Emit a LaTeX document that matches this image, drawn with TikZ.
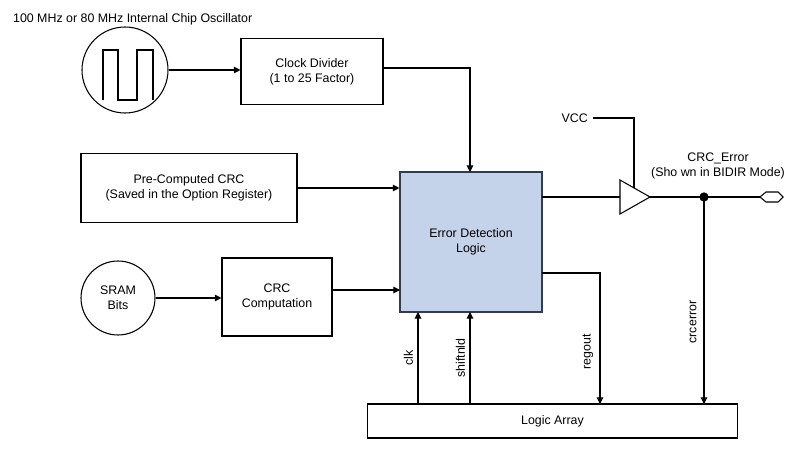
\documentclass[tikz,border=0pt]{standalone}
\usepackage{fontspec}
\setmainfont{Liberation Sans}
\usetikzlibrary{arrows.meta}
\begin{document}
\begin{tikzpicture}[x=0.75pt,y=-0.75pt,line width=1pt,
  box/.style={draw,thick,minimum width=#1,align=center,font=\fontsize{9.3}{11.5}\selectfont,inner sep=0pt},
  lbl/.style={font=\fontsize{9.3}{11.5}\selectfont,align=center},
  arr/.style={-{Triangle[length=5pt,width=5pt]},thick}]
\useasboundingbox (0,0) rectangle (800,449);
\node[lbl,anchor=west] (title) at (8,19) {100 MHz or 80 MHz Internal Chip Oscillator};
\node[draw,thick,circle,minimum size=64.5pt] (osc) at (125,70) {};
\draw[thick] (103,100) -- (103,50) -- (118,50) -- (118,100) -- (137,100) -- (137,50) -- (153,50) -- (153,100);
\node[box=106.5pt,minimum height=50pt] (div) at (312,71.5) {Clock Divider\\(1 to 25 Factor)};
\node[box=162pt,minimum height=52pt] (pre) at (189,188) {Pre-Computed CRC\\(Saved in the Option Register)};
\node[box=106.5pt,minimum height=105pt,fill={rgb,255:red,197;green,211;blue,234},draw={rgb,255:red,50;green,60;blue,80}] (edl) at (471,242) {Error Detection\\Logic};
\node[draw,thick,circle,minimum size=55.5pt,lbl] (sram) at (118,298) {SRAM\\Bits};
\node[box=82.5pt,minimum height=58.5pt] (crc) at (277,297) {CRC\\Computation};
\node[box=278pt,minimum height=25.5pt] (la) at (552.5,421) {Logic Array};
\draw[arr] (osc.east) -- (osc.east -| div.west);
\draw[arr] (div.east |- 0,68) -- (470,68) -- (470,172);
\draw[arr] (pre.east) -- (pre.east -| edl.west);
\draw[arr] (sram.east) -- (sram.east -| crc.west);
\draw[arr] (crc.east |- 0,290) -- (400,290);
\draw[arr] (418,404) -- (418,312) node[pos=0.5,lbl,rotate=90,above] {clk};
\draw[arr] (470,404) -- (470,312) node[pos=0.5,lbl,rotate=90,above] {shiftnld};
\draw[arr] (542,273) -- (600,273) -- (600,404);
\node[lbl,rotate=90] (rg) at (588,352) {regout};
% tristate buffer
\coordinate (tl) at (620,180); \coordinate (bl) at (620,214); \coordinate (tip) at (650,197);
\draw[thick] (tl) -- (tip) -- (bl) -- cycle;
\draw[thick] (542,197) -- (620,197);
\node[lbl,anchor=east] (vcc) at (593,118) {VCC};
\draw[thick] (vcc.east) -- (634,118) -- (634,188);
\draw[thick] (tip) -- (760,197);
\draw[thick] (760,197) -- (766,192) -- (778,192) -- (783,197) -- (778,202) -- (766,202) -- cycle;
\coordinate (dot) at (704,197);
\fill (dot) circle (3.5pt);
\draw[arr] (dot) -- (704,404);
\node[lbl,rotate=90] (ce) at (693,322) {crcerror};
\node[lbl] (crcl) at (718,166) {CRC\_Error\\(Sho wn in BIDIR Mode)};
\end{tikzpicture}
\end{document}
